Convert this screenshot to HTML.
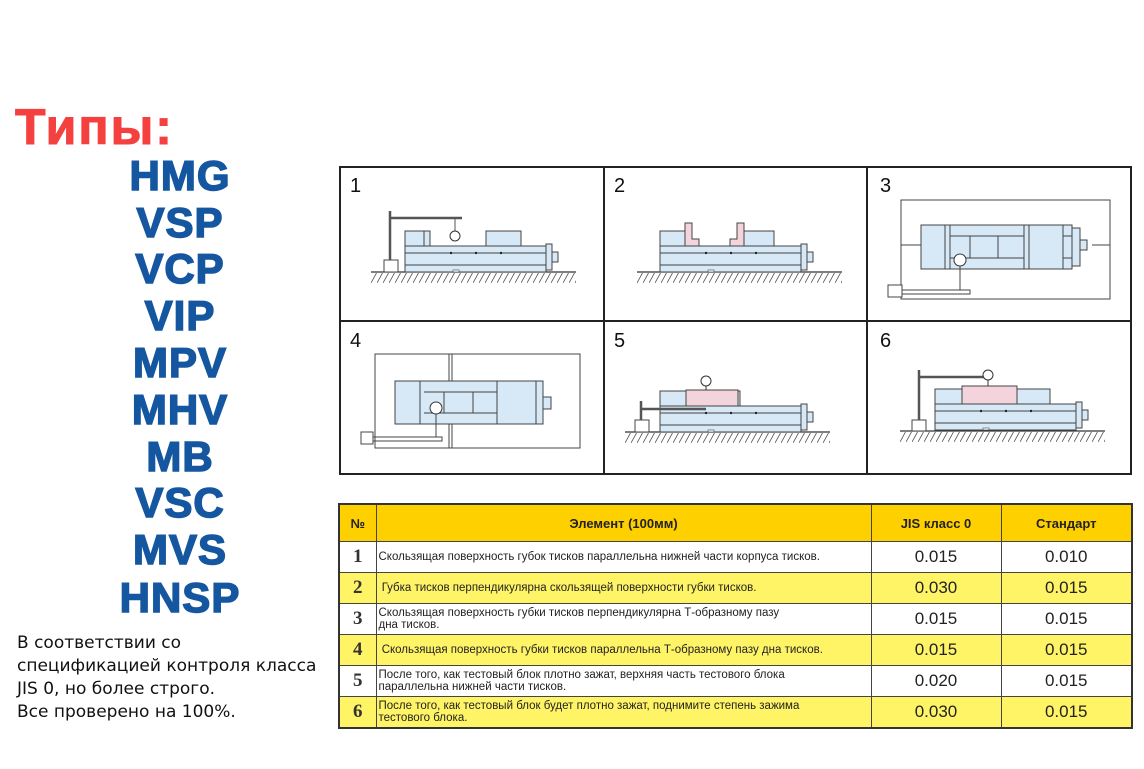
<!DOCTYPE html>
<html><head><meta charset="utf-8"><style>
body{margin:0;width:1144px;height:769px;background:#fff;overflow:hidden;position:relative;font-family:"Liberation Sans",sans-serif}
.t{position:absolute;left:15px;top:98px;font-size:50px;font-weight:bold;color:#f54040;letter-spacing:2px;-webkit-text-stroke:1px #f54040}
.m{position:absolute;left:80px;width:200px;text-align:center;font-weight:bold;color:#1556a0;font-size:42px;line-height:40px;-webkit-text-stroke:1.5px #1556a0;letter-spacing:1px}
.p{position:absolute;left:17px;top:632px;font-family:"DejaVu Sans",sans-serif;font-size:17px;line-height:23px;color:#111}
table{position:absolute;left:338px;top:503px;border-collapse:collapse;border:2px solid #333;table-layout:fixed;width:793px}
td{border:1px solid #444;height:30px;padding:0;overflow:hidden;white-space:nowrap}
.h td{background:#ffd000;height:36px;font-weight:bold;font-size:13px;text-align:center;color:#222}
.y td{background:#fff466}
.n{text-align:center;font-family:"Liberation Serif",serif;font-size:19px;font-weight:bold;color:#333}
.e{font-size:11.5px;line-height:12px;padding-left:2px;color:#222}
.v{text-align:center;font-size:17px;color:#222}
</style></head><body>
<div class="t">Типы:</div>
<div class="m" style="top:156px">HMG</div>
<div class="m" style="top:203px">VSP</div>
<div class="m" style="top:249px">VCP</div>
<div class="m" style="top:296px">VIP</div>
<div class="m" style="top:343px">MPV</div>
<div class="m" style="top:390px">MHV</div>
<div class="m" style="top:437px">MB</div>
<div class="m" style="top:483px">VSC</div>
<div class="m" style="top:530px">MVS</div>
<div class="m" style="top:578px">HNSP</div>
<div class="p">В соответствии со<br>спецификацией контроля класса<br>JIS 0, но более строго.<br>Все проверено на 100%.</div>

<svg width="1144" height="769" style="position:absolute;left:0;top:0" xmlns="http://www.w3.org/2000/svg">
<defs>
<pattern id="hat" width="6" height="11" patternUnits="userSpaceOnUse"><line x1="6" y1="0" x2="0" y2="11" stroke="#555" stroke-width="0.8"/></pattern>
<g id="vise">
<rect x="0" y="0" width="141" height="26" fill="#d7e9f6" stroke="#444" stroke-width="1"/>
<line x1="0" y1="7" x2="141" y2="7" stroke="#444"/><line x1="0" y1="19" x2="141" y2="19" stroke="#444"/>
<rect x="141" y="-2" width="6" height="26" fill="#d7e9f6" stroke="#444"/>
<rect x="147" y="6" width="6" height="10" fill="#d7e9f6" stroke="#444"/>
<circle cx="46" cy="7" r="1.2" fill="#222"/><circle cx="71" cy="7" r="1.2" fill="#222"/><circle cx="96" cy="7" r="1.2" fill="#222"/>
<rect x="48" y="24" width="6" height="2" fill="#fff" stroke="#444" stroke-width="0.6"/>
</g>
<g id="ground"><line x1="0" y1="0" x2="205" y2="0" stroke="#333" stroke-width="1.2"/><rect x="0" y="1" width="205" height="10" fill="url(#hat)"/></g>
</defs>
<g fill="none" stroke="#222" stroke-width="2">
<rect x="340" y="167" width="791" height="307"/>
<line x1="604" y1="167" x2="604" y2="474"/><line x1="867" y1="167" x2="867" y2="474"/>
<line x1="340" y1="321" x2="1131" y2="321"/>
</g>
<g font-size="20" fill="#111"><text x="350" y="192">1</text><text x="614" y="192">2</text><text x="880" y="192">3</text><text x="350" y="347">4</text><text x="614" y="347">5</text><text x="880" y="347">6</text></g>
<use href="#ground" x="371" y="272"/>
<rect x="405" y="231" width="25" height="15" fill="#d7e9f6" stroke="#444"/><rect x="424" y="231" width="6" height="15" fill="#d7e9f6" stroke="#444"/>
<rect x="486" y="231" width="35" height="15" fill="#d7e9f6" stroke="#444"/>
<use href="#vise" x="405" y="246"/>
<rect x="384" y="260" width="14" height="12" fill="#fff" stroke="#444"/>
<path d="M390 260V211M390 218H462" stroke="#555" stroke-width="2.5" fill="none"/>
<line x1="455" y1="218" x2="455" y2="231" stroke="#555"/><circle cx="455" cy="236" r="5" fill="#fff" stroke="#333"/>
<use href="#ground" x="637" y="272"/>
<rect x="660" y="231" width="25" height="15" fill="#d7e9f6" stroke="#444"/>
<path d="M685 246V223H692V239H699V246Z" fill="#f3d3dc" stroke="#444"/>
<path d="M730 246V239H737V223H744V246Z" fill="#f3d3dc" stroke="#444"/>
<rect x="744" y="231" width="30" height="15" fill="#d7e9f6" stroke="#444"/>
<use href="#vise" x="660" y="246"/>
<rect x="901" y="200" width="209" height="99" fill="#fff" stroke="#444"/>
<line x1="901" y1="245" x2="921" y2="245" stroke="#444"/><line x1="1092" y1="245" x2="1110" y2="245" stroke="#444"/>
<rect x="921" y="225" width="151" height="44" fill="#d7e9f6" stroke="#444"/>
<path d="M945 225V269M950 225V269M1024 225V269M1029 225V269M1063 225V269M950 236H1024M950 258H1024M970 236V258M998 236V258M1063 236H1080M1063 258H1080" stroke="#444" fill="none"/>
<rect x="1072" y="228" width="8" height="38" fill="#d7e9f6" stroke="#444"/>
<rect x="1080" y="240" width="7" height="10" fill="#d7e9f6" stroke="#444"/>
<circle cx="960" cy="260" r="6" fill="#fff" stroke="#333"/>
<path d="M960 266V290M888 290H970V294H888" stroke="#444" fill="none"/><rect x="888" y="285" width="14" height="12" fill="#fff" stroke="#444"/>
<rect x="375" y="354" width="205" height="94" fill="#fff" stroke="#444"/>
<line x1="449" y1="354" x2="449" y2="448" stroke="#444"/><line x1="452" y1="354" x2="452" y2="448" stroke="#444"/>
<rect x="395" y="381" width="148" height="43" fill="#d7e9f6" stroke="#444"/>
<path d="M420 381V424M497 381V424M424 392H497M424 413H497M444 392V413M473 392V413M536 381V424" stroke="#444" fill="none"/>
<rect x="543" y="397" width="8" height="12" fill="#d7e9f6" stroke="#444"/>
<circle cx="436" cy="408" r="6" fill="#fff" stroke="#333"/>
<path d="M436 414V437M366 437H442V441H366" stroke="#444" fill="none"/><rect x="361" y="432" width="12" height="12" fill="#fff" stroke="#444"/>
<use href="#ground" x="625" y="432"/>
<rect x="660" y="391" width="80" height="15" fill="#d7e9f6" stroke="#444"/>
<rect x="686" y="390" width="52" height="16" fill="#f3d3dc" stroke="#444"/>
<use href="#vise" x="660" y="406"/>
<rect x="635" y="420" width="14" height="12" fill="#fff" stroke="#444"/>
<path d="M641 420V401M641 409H706" stroke="#555" stroke-width="2.5" fill="none"/>
<circle cx="706" cy="381" r="5" fill="#fff" stroke="#333"/><line x1="706" y1="386" x2="706" y2="390" stroke="#333"/>
<use href="#ground" x="900" y="431"/>
<rect x="935" y="389" width="115" height="15" fill="#d7e9f6" stroke="#444"/>
<rect x="962" y="386" width="55" height="18" fill="#f3d3dc" stroke="#444"/>
<use href="#vise" x="935" y="404"/>
<rect x="912" y="420" width="14" height="11" fill="#fff" stroke="#444"/>
<path d="M919 420V370M919 377H988" stroke="#555" stroke-width="2.5" fill="none"/>
<circle cx="988" cy="375" r="5" fill="#fff" stroke="#333"/><line x1="988" y1="380" x2="988" y2="386" stroke="#333"/>
</svg>

<table>
<colgroup><col style="width:37px"><col style="width:495px"><col style="width:130px"><col style="width:131px"></colgroup>
<tr class="h"><td class="n" style="font-family:'Liberation Sans',sans-serif;font-size:13px">№</td><td>Элемент (100мм)</td><td>JIS класс 0</td><td>Стандарт</td></tr>
<tr><td class="n">1</td><td class="e">Скользящая поверхность губок тисков параллельна нижней части корпуса тисков.</td><td class="v">0.015</td><td class="v">0.010</td></tr>
<tr class="y"><td class="n">2</td><td class="e">&nbsp;Губка тисков перпендикулярна скользящей поверхности губки тисков.</td><td class="v">0.030</td><td class="v">0.015</td></tr>
<tr><td class="n">3</td><td class="e">Скользящая поверхность губки тисков перпендикулярна Т-образному пазу<br>дна тисков.</td><td class="v">0.015</td><td class="v">0.015</td></tr>
<tr class="y"><td class="n">4</td><td class="e">&nbsp;Скользящая поверхность губки тисков параллельна Т-образному пазу дна тисков.</td><td class="v">0.015</td><td class="v">0.015</td></tr>
<tr><td class="n">5</td><td class="e">После того, как тестовый блок плотно зажат, верхняя часть тестового блока<br>параллельна нижней части тисков.</td><td class="v">0.020</td><td class="v">0.015</td></tr>
<tr class="y"><td class="n">6</td><td class="e">После того, как тестовый блок будет плотно зажат, поднимите степень зажима<br>тестового блока.</td><td class="v">0.030</td><td class="v">0.015</td></tr>
</table>
</body></html>
